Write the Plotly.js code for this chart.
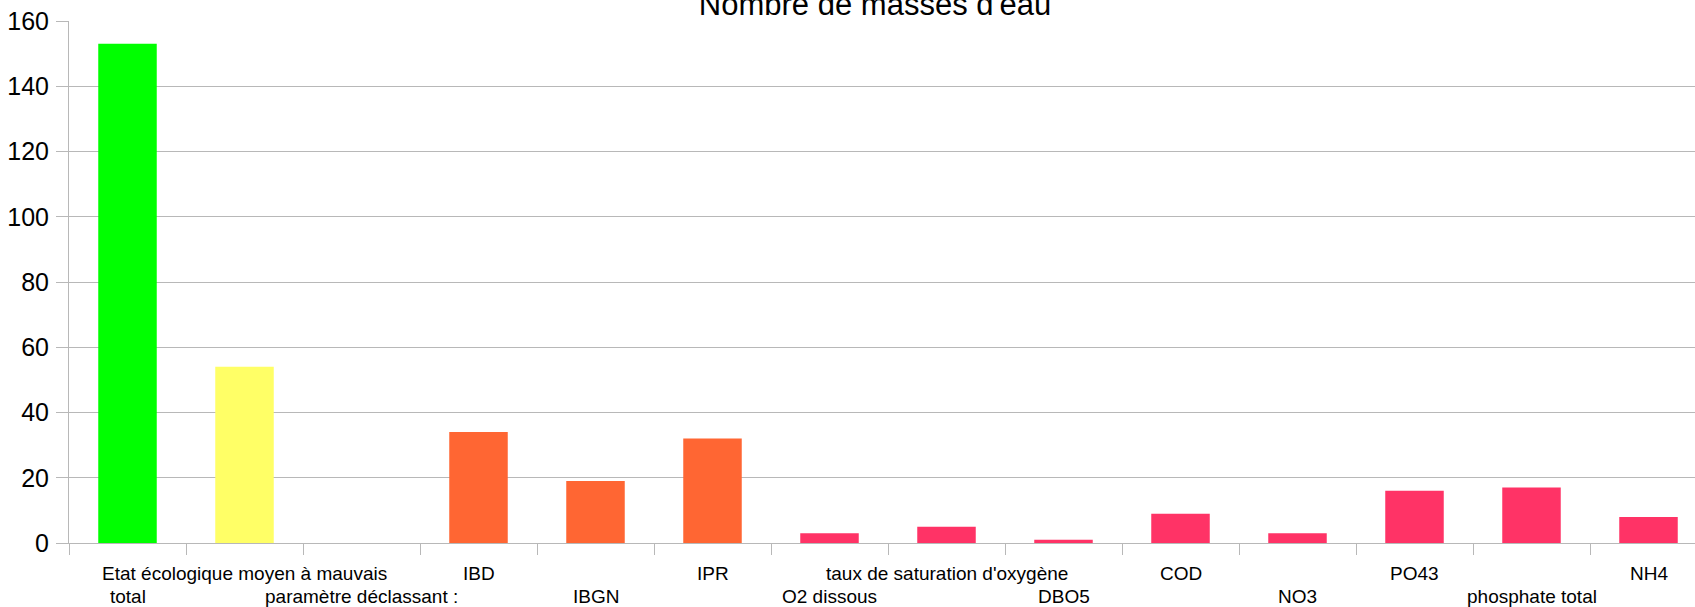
<!DOCTYPE html>
<html>
<head>
<meta charset="utf-8">
<script src="https://cdn.plot.ly/plotly-3.0.1.min.js"></script>
<style>
  html, body { margin: 0; padding: 0; background: #ffffff; }
  #chart { width: 1695px; height: 607px; }
</style>
</head>
<body>
<div id="chart"></div>
<script>
// Nombre de masses d'eau par paramètre déclassant
const categories = [
  'total',
  'Etat écologique moyen à mauvais',
  'paramètre déclassant :',
  'IBD',
  'IBGN',
  'IPR',
  'O2 dissous',
  "taux de saturation d'oxygène",
  'DBO5',
  'COD',
  'NO3',
  'PO43',
  'phosphate total',
  'NH4'
];
const counts = [153, 54, 0, 34, 19, 32, 3, 5, 1, 9, 3, 16, 17, 8];
const barColors = [
  '#00ff00', '#ffff66', '#ff6633', '#ff6633', '#ff6633', '#ff6633',
  '#ff3366', '#ff3366', '#ff3366', '#ff3366', '#ff3366', '#ff3366',
  '#ff3366', '#ff3366'
];
const yTicks = [0, 20, 40, 60, 80, 100, 120, 140, 160];
const chartTitle = "Nombre de masses d'eau";

const FONT = '"Liberation Sans", Arial, sans-serif';
const GRID = '#b8b8b8';

// category width in px is ~117, plot runs past the right edge of the window
const plotLeft = 69;
const plotWidth = 1695 - plotLeft;
const catPx = 117;
const xMax = -0.5 + plotWidth / catPx;

// staggered labels: odd categories on the first row, even ones on the second
const labelNotes = categories.map((c, i) => ({
  text: c,
  x: i,
  xref: 'x',
  y: 0,
  yref: 'paper',
  yanchor: 'middle',
  yshift: i % 2 === 1 ? -30 : -53,
  showarrow: false,
  font: { family: FONT, size: 19, color: '#000000' }
}));

const data = [{
  type: 'bar',
  x: categories,
  y: counts,
  marker: { color: barColors, line: { width: 0 } },
  hoverinfo: 'x+y'
}];

const layout = {
  width: 1695,
  height: 607,
  paper_bgcolor: '#ffffff',
  plot_bgcolor: '#ffffff',
  font: { family: FONT, color: '#000000' },
  title: {
    text: chartTitle,
    font: { family: FONT, size: 31, color: '#000000' },
    xref: 'container',
    x: 875 / 1695,
    xanchor: 'center',
    yref: 'container',
    y: 1 - 4 / 607,
    yanchor: 'middle'
  },
  bargap: 0.5,
  showlegend: false,
  margin: { l: plotLeft, r: 0, t: 21, b: 64, pad: 0 },
  xaxis: {
    type: 'category',
    range: [-0.5, xMax],
    showticklabels: false,
    tickson: 'boundaries',
    ticks: 'outside',
    ticklen: 11,
    tickcolor: GRID,
    tickwidth: 1,
    showgrid: false,
    showline: true,
    linecolor: GRID,
    linewidth: 1,
    zeroline: false
  },
  yaxis: {
    range: [0, 160],
    tickvals: yTicks,
    ticks: 'outside',
    ticklen: 12,
    tickcolor: GRID,
    tickwidth: 1,
    tickfont: { family: FONT, size: 25, color: '#000000' },
    showgrid: true,
    gridcolor: GRID,
    gridwidth: 1,
    showline: true,
    linecolor: GRID,
    linewidth: 1,
    zeroline: false,
    ticklabelstandoff: 2
  },
  annotations: labelNotes
};

Plotly.newPlot('chart', data, layout, { displayModeBar: false, staticPlot: true });
</script>
</body>
</html>
